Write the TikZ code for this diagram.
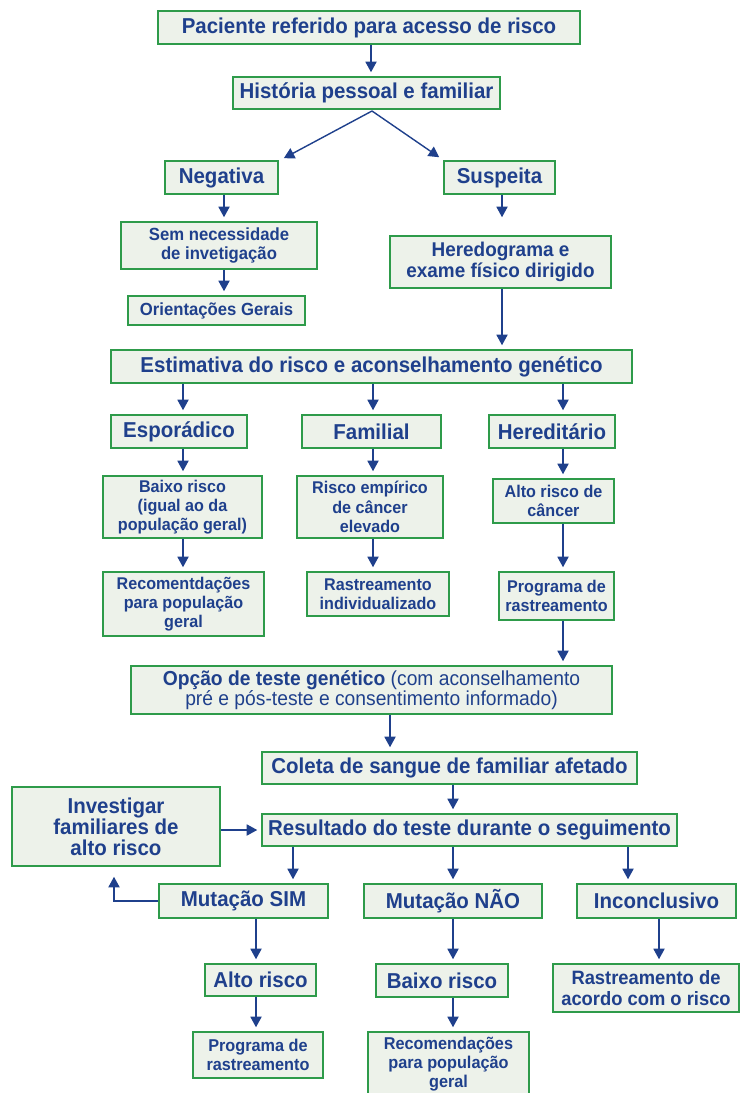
\documentclass[tikz,border=0pt]{standalone}
\usepackage{fontspec}
\setmainfont{Liberation Sans}[FakeStretch=0.95]
\usetikzlibrary{arrows.meta,calc}

\definecolor{txtblue}{HTML}{1F408C}
\definecolor{boxgreen}{HTML}{2E9B4A}
\definecolor{boxfill}{HTML}{EDF2EA}

\begin{document}
\begin{tikzpicture}[x=0.3mm, y=-0.3mm, thick,
    main/.style = {draw=boxgreen, fill=boxfill, line width=1.3pt, text=txtblue, align=center, inner sep=0pt,
                   font=\bfseries\fontsize{18.4}{20}\selectfont},
    mid/.style = {font=\bfseries\fontsize{15}{16.5}\selectfont},
    small/.style = {font=\bfseries\fontsize{14.5}{16.4}\selectfont},
    sz/.style 2 args = {minimum width=#1*0.3mm, minimum height=#2*0.3mm},
    arr/.style = {draw=txtblue, line width=1.2pt, -{Triangle[length=9pt,width=9.5pt]}, shorten >=1.2mm}]
    \useasboundingbox (0,0) rectangle (740,1093);

    % top part
    \node[main, sz={422}{33}] (pac) at (369,27.5) {Paciente referido para acesso de risco};
    \node[main, sz={267}{32}] (hist) at (366.5,93) {História pessoal e familiar};
    \node[main, sz={113}{33}] (neg) at (221.5,177.5) {Negativa};
    \node[main, sz={111}{33}] (sus) at (499.5,177.5) {Suspeita};
    \node[main, mid, sz={196}{47}] (sem) at (219,245.5) {Sem necessidade\\de invetigação};
    \node[main, mid, sz={177}{29}] (ori) at (216.5,310.5) {Orientações Gerais};
    \node[main, font=\bfseries\fontsize{17}{18.5}\selectfont, sz={221}{52}] (her) at (500.5,262) {Heredograma e\\exame físico dirigido};

    % risk estimate
    \node[main, sz={521}{33}] (est) at (371.5,366.5) {Estimativa do risco e aconselhamento genético};
    \node[main, sz={136}{33}] (esp) at (179,431.5) {Esporádico};
    \node[main, sz={139}{33}] (fam) at (371.5,431.5) {Familial};
    \node[main, sz={126}{33}] (hed) at (552,431.5) {Hereditário};
    \node[main, small, sz={159}{62}] (bai) at (182.5,507) {Baixo risco\\(igual ao da\\população geral)};
    \node[main, small, sz={146}{62}] (emp) at (370,507) {Risco empírico\\de câncer\\elevado};
    \node[main, small, sz={121}{44}] (alt) at (553.5,501) {Alto risco de\\câncer};
    \node[main, small, sz={161}{64}] (rec) at (183.5,604) {Recomentdações\\para população\\geral};
    \node[main, small, sz={142}{44}] (ind) at (378,594) {Rastreamento\\individualizado};
    \node[main, small, sz={115}{48}] (pro) at (556.5,596) {Programa de\\rastreamento};

    % genetic test
    \node[main, font=\fontsize{17.3}{17.5}\selectfont, sz={481}{48}] (opc) at (371.5,690)
        {\textbf{Opção de teste genético} (com aconselhamento\\pré e pós-teste e consentimento informado)};
    \node[main, sz={375}{32}] (col) at (449.5,768) {Coleta de sangue de familiar afetado};
    \node[main, sz={415}{32}] (res) at (469.5,830) {Resultado do teste durante o seguimento};
    \node[main, font=\bfseries\fontsize{18.4}{18}\selectfont, sz={208}{79}] (inv) at (116,826.5) {Investigar\\familiares de\\alto risco};
    \node[main, sz={169}{34}] (sim) at (243.5,901) {Mutação SIM};
    \node[main, sz={178}{34}] (nao) at (453,901) {Mutação NÃO};
    \node[main, sz={159}{34}] (inc) at (656.5,901) {Inconclusivo};
    \node[main, sz={111}{32}] (ar) at (260.5,980) {Alto risco};
    \node[main, sz={132}{33}] (br) at (442,980.5) {Baixo risco};
    \node[main, font=\bfseries\fontsize{16.5}{18.5}\selectfont, sz={186}{48}] (rac) at (646,988) {Rastreamento de\\acordo com o risco};
    \node[main, font=\bfseries\fontsize{14.6}{16.5}\selectfont, sz={130}{46}] (pr2) at (258,1055) {Programa de\\rastreamento};
    \node[main, font=\bfseries\fontsize{14.6}{16.5}\selectfont, sz={161}{64}] (rc2) at (448.5,1064) {Recomendações\\para população\\geral};

    % columns of the arrows
    \coordinate (cA) at (371,0);
    \coordinate (cN) at (224,0);
    \coordinate (cS) at (502,0);
    \coordinate (cE) at (183,0);
    \coordinate (cF) at (373,0);
    \coordinate (cH) at (563,0);
    \coordinate (cO) at (390,0);
    \coordinate (cC) at (453,0);
    \coordinate (cM) at (293,0);
    \coordinate (cI) at (628,0);
    \coordinate (cL) at (256,0);
    \coordinate (cR) at (659,0);
    \coordinate (cV) at (114,0);
    \coordinate (fork) at (372,111);

    \foreach \a/\b/\c in {pac/hist/cA, neg/sem/cN, sem/ori/cN, her/est/cS,
                          est/esp/cE, est/fam/cF, est/hed/cH,
                          esp/bai/cE, fam/emp/cF, hed/alt/cH,
                          bai/rec/cE, emp/ind/cF, alt/pro/cH, pro/opc/cH,
                          opc/col/cO, col/res/cC,
                          res/sim/cM, res/nao/cC, res/inc/cI,
                          sim/ar/cL, nao/br/cC, inc/rac/cR,
                          ar/pr2/cL, br/rc2/cC}
        \draw[arr] (\a.south -| \c) -- (\b.north -| \c);

    \draw[arr, shorten >=0pt] (fork) -- ($(neg.north east)+(5,-2)$);
    \draw[arr, shorten >=0pt] (fork) -- ($(sus.north west)+(-4,-3)$);
    \draw[arr, shorten >=5.4mm] (sus.south -| cS) -- (her.north -| cS);
    \draw[arr] (inv.east |- res) -- (res.west);
    \draw[arr, shorten >=3mm] (sim.west) -| (inv.south -| cV);
\end{tikzpicture}
\end{document}
